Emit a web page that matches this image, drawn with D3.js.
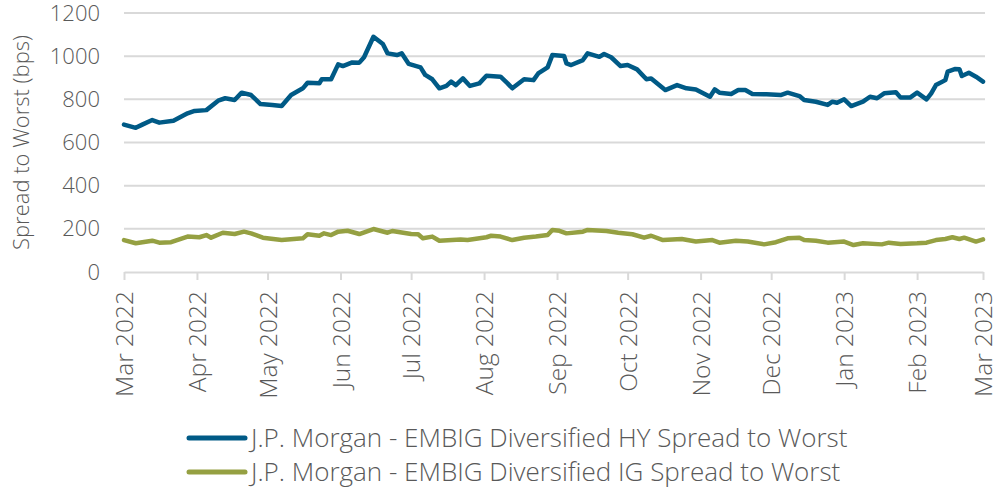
<!DOCTYPE html>
<html>
<head>
<meta charset="utf-8">
<script src="https://cdn.jsdelivr.net/npm/d3@7"></script>
<style>
	body { margin: 0; background: #fff; }
	svg { display: block; font-family: "Open Sans", sans-serif; }
</style>
</head>
<body>
<svg id="chart" width="995" height="489"></svg>
<script>
// series
const hyDates = [
	"2022-03-01", "2022-03-06", "2022-03-09", "2022-03-13", "2022-03-16", "2022-03-22", "2022-03-28", "2022-03-31",
	"2022-04-05", "2022-04-10", "2022-04-13", "2022-04-17", "2022-04-20", "2022-04-24", "2022-04-28",
	"2022-05-03", "2022-05-07", "2022-05-11", "2022-05-16", "2022-05-18", "2022-05-23", "2022-05-24", "2022-05-28", "2022-05-31",
	"2022-06-02", "2022-06-06", "2022-06-09", "2022-06-11", "2022-06-15", "2022-06-19", "2022-06-21", "2022-06-25", "2022-06-27", "2022-06-30",
	"2022-07-05", "2022-07-07", "2022-07-10", "2022-07-13", "2022-07-16", "2022-07-18", "2022-07-20", "2022-07-23", "2022-07-26", "2022-07-30",
	"2022-08-02", "2022-08-08", "2022-08-11", "2022-08-13", "2022-08-18", "2022-08-22", "2022-08-24", "2022-08-28", "2022-08-30",
	"2022-09-04", "2022-09-05", "2022-09-07", "2022-09-12", "2022-09-14", "2022-09-19", "2022-09-21", "2022-09-24", "2022-09-28",
	"2022-10-01", "2022-10-05", "2022-10-09", "2022-10-11", "2022-10-17", "2022-10-22", "2022-10-26", "2022-10-30",
	"2022-11-05", "2022-11-07", "2022-11-09", "2022-11-14", "2022-11-17", "2022-11-20", "2022-11-23", "2022-11-29",
	"2022-12-05", "2022-12-08", "2022-12-13", "2022-12-15", "2022-12-20", "2022-12-25", "2022-12-27", "2022-12-29",
	"2023-01-01", "2023-01-04", "2023-01-09", "2023-01-12", "2023-01-15", "2023-01-18", "2023-01-23", "2023-01-25", "2023-01-29",
	"2023-02-01", "2023-02-05", "2023-02-07", "2023-02-09", "2023-02-13", "2023-02-14", "2023-02-17", "2023-02-19", "2023-02-20", "2023-02-23", "2023-02-26",
	"2023-03-01"
];
const hyValues = [
	683, 668, 684, 704, 692, 701, 735, 746,
	750, 794, 805, 797, 831, 820, 778,
	774, 769, 820, 851, 877, 874, 893, 893, 962,
	954, 971, 970, 995, 1090, 1056, 1013, 1005, 1013, 964,
	948, 913, 893, 851, 862, 882, 866, 897, 862, 874,
	909, 905, 874, 851, 893, 889, 920, 948, 1005,
	1001, 967, 959, 982, 1013, 997, 1010, 995, 954,
	959, 939, 893, 897, 843, 866, 851, 846,
	812, 846, 831, 825, 843, 843, 825, 823,
	820, 831, 815, 797, 789, 774, 789, 784,
	800, 769, 789, 812, 805, 828, 833, 808, 808,
	831, 800, 828, 866, 889, 928, 940, 939, 908, 923, 905,
	882
];

const igDates = [
	"2022-03-01", "2022-03-06", "2022-03-13", "2022-03-16", "2022-03-21", "2022-03-28",
	"2022-04-02", "2022-04-05", "2022-04-07", "2022-04-12", "2022-04-17", "2022-04-21", "2022-04-24", "2022-04-29",
	"2022-05-07", "2022-05-16", "2022-05-18", "2022-05-23", "2022-05-25", "2022-05-28", "2022-05-31",
	"2022-06-04", "2022-06-09", "2022-06-15", "2022-06-21", "2022-06-23",
	"2022-07-01", "2022-07-04", "2022-07-06", "2022-07-10", "2022-07-13", "2022-07-22", "2022-07-25",
	"2022-08-02", "2022-08-04", "2022-08-08", "2022-08-13", "2022-08-18", "2022-08-23", "2022-08-28", "2022-08-30",
	"2022-09-02", "2022-09-05", "2022-09-12", "2022-09-14", "2022-09-22", "2022-09-27",
	"2022-10-03", "2022-10-08", "2022-10-11", "2022-10-16", "2022-10-24", "2022-10-30",
	"2022-11-06", "2022-11-09", "2022-11-16", "2022-11-21", "2022-11-28",
	"2022-12-03", "2022-12-08", "2022-12-13", "2022-12-15", "2022-12-20", "2022-12-25",
	"2023-01-01", "2023-01-05", "2023-01-09", "2023-01-17", "2023-01-20", "2023-01-25",
	"2023-02-01", "2023-02-05", "2023-02-09", "2023-02-13", "2023-02-16", "2023-02-19", "2023-02-21", "2023-02-26",
	"2023-03-01"
];
const igValues = [
	148, 133, 145, 136, 138, 164,
	161, 171, 159, 182, 176, 187, 179, 159,
	148, 156, 175, 168, 179, 171, 187,
	191, 176, 199, 182, 190,
	176, 175, 156, 164, 145, 151, 148,
	161, 168, 164, 148, 159, 164, 171, 195,
	191, 179, 187, 195, 190, 182,
	175, 159, 168, 148, 153, 141,
	148, 136, 145, 141, 128,
	138, 156, 159, 148, 145, 136,
	141, 125, 133, 128, 136, 130,
	133, 136, 148, 153, 161, 153, 159, 141,
	151
];

const seriesNames = [
	"J.P. Morgan - EMBIG Diversified HY Spread to Worst",
	"J.P. Morgan - EMBIG Diversified IG Spread to Worst"
];
const seriesColors = ["#005a86", "#95a042"];
const yTicks = [0, 200, 400, 600, 800, 1000, 1200];
const yTitle = "Spread to Worst (bps)";

const parse = d3.timeParse("%Y-%m-%d");
const series = [
	hyDates.map((d, i) => ({ date: parse(d), value: hyValues[i] })),
	igDates.map((d, i) => ({ date: parse(d), value: igValues[i] })),
];

const svg = d3.select("#chart");
const textColor = "#595959";
const gridColor = "#d9d9d9";

const x = d3
	.scaleTime()
	.domain([parse("2022-03-01"), parse("2023-03-01")])
	.range([124, 983]);

const y = d3.scaleLinear().domain([0, 1200]).range([272, 13]);

// horizontal gridlines
svg
	.append("g")
	.selectAll("line")
	.data(yTicks.filter((t) => t > 0))
	.join("line")
	.attr("x1", 124)
	.attr("x2", 985)
	.attr("y1", (d) => y(d))
	.attr("y2", (d) => y(d))
	.attr("stroke", gridColor)
	.attr("stroke-width", 2);

// y axis labels
const yAxis = svg
	.append("g")
	.attr("transform", "translate(100,0)")
	.call(d3.axisLeft(y).tickValues(yTicks).tickFormat(d3.format("d")).tickSize(0).tickPadding(0));
yAxis.select(".domain").remove();
yAxis
	.selectAll("text")
	.attr("font-size", "22px")
	.attr("font-family", "Open Sans")
	.attr("font-weight", 300)
	.attr("fill", textColor);

svg
	.append("text")
	.attr("transform", `translate(29,${(y(0) + y(1200)) / 2}) rotate(-90)`)
	.attr("text-anchor", "middle")
	.attr("font-size", "22px")
	.attr("font-weight", 300)
	.attr("fill", textColor)
	.text(yTitle);

// x axis
const xAxis = svg
	.append("g")
	.attr("transform", `translate(0,${y(0)})`)
	.call(
		d3
			.axisBottom(x)
			.ticks(d3.timeMonth.every(1))
			.tickFormat(d3.timeFormat("%b %Y"))
			.tickSizeInner(8)
			.tickSizeOuter(0)
	);
xAxis.select(".domain").attr("stroke", gridColor).attr("stroke-width", 2);
xAxis.selectAll(".tick line").attr("stroke", gridColor).attr("stroke-width", 2);
xAxis
	.selectAll("text")
	.attr("transform", "rotate(-90)")
	.attr("text-anchor", "end")
	.attr("x", -19)
	.attr("y", 0)
	.attr("dy", "0.35em")
	.attr("font-size", "24.5px")
	.attr("font-family", "Open Sans")
	.attr("font-weight", 300)
	.attr("fill", textColor);

// lines
const line = d3
	.line()
	.x((d) => x(d.date))
	.y((d) => y(d.value));

series.forEach((s, i) => {
	svg
		.append("path")
		.datum(s)
		.attr("d", line)
		.attr("fill", "none")
		.attr("stroke", seriesColors[i])
		.attr("stroke-width", 4.5)
		.attr("stroke-linejoin", "round")
		.attr("stroke-linecap", "round");
});

// legend
const legend = svg.append("g");
seriesNames.forEach((name, i) => {
	const ly = 438 + i * 34;
	legend
		.append("line")
		.attr("x1", 189)
		.attr("x2", 245)
		.attr("y1", ly)
		.attr("y2", ly)
		.attr("stroke", seriesColors[i])
		.attr("stroke-width", 5)
		.attr("stroke-linecap", "round");
	legend
		.append("text")
		.attr("x", 251)
		.attr("y", ly)
		.attr("dy", "0.35em")
		.attr("font-size", "26px")
		.attr("font-weight", 300)
		.attr("fill", textColor)
		.text(name);
});
</script>
</body>
</html>
